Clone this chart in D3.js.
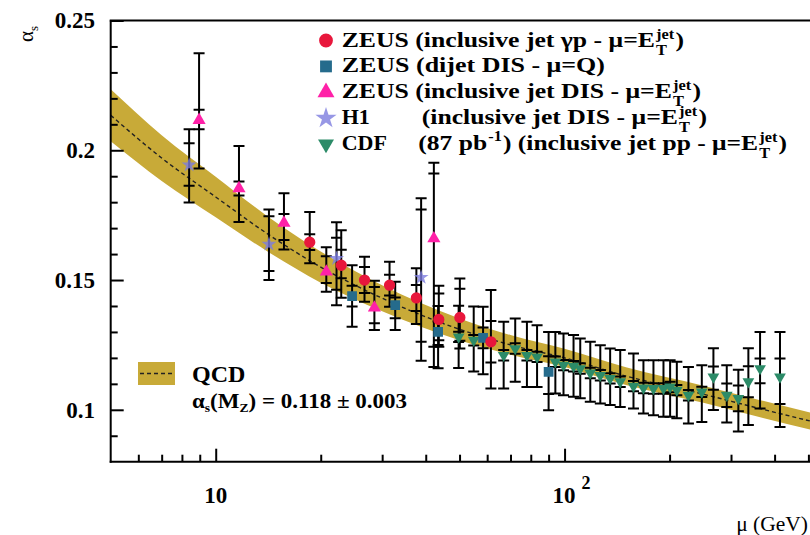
<!DOCTYPE html>
<html><head><meta charset="utf-8">
<script src="https://cdn.jsdelivr.net/npm/d3@7"></script>
<style>
body{margin:0;background:#fff}
svg{display:block}
text{font-family:"Liberation Serif","Times New Roman",serif;fill:#000}
.tick-lab{font-size:23px;font-weight:bold}
.leg{font-size:22px;font-weight:bold}
.legs{font-size:14px;font-weight:bold}
</style>
</head><body>
<svg id="chart" width="810" height="535"></svg>
<script>
// QCD running coupling band, alpha_s(MZ) = 0.118 +- 0.003
const bandMu   = [5, 7, 10, 14, 20, 30, 50, 70, 100, 150, 250, 350, 512];
const bandMid  = [0.2135, 0.197, 0.182, 0.168, 0.155, 0.143, 0.131, 0.125, 0.120, 0.113, 0.106, 0.101, 0.0955];
const bandLow  = [0.2035, 0.1882, 0.1742, 0.1612, 0.149, 0.138, 0.1268, 0.1212, 0.1165, 0.1096, 0.1027, 0.0977, 0.0922];
const bandHigh = [0.2235, 0.2058, 0.1898, 0.1748, 0.161, 0.148, 0.1352, 0.1288, 0.1235, 0.1164, 0.1093, 0.1043, 0.0988];

// ZEUS inclusive jet photoproduction
const zeusGpMu     = [18.6, 22.9, 26.7, 31.5, 37.6, 43.6, 50.1, 61.5];
const zeusGpAs     = [0.1646, 0.1557, 0.1500, 0.1480, 0.1431, 0.1348, 0.1356, 0.1262];
const zeusGpTotUp  = [0.0116, 0.0135, 0.0090, 0.0090, 0.0114, 0.0130, 0.0150, 0.0200];
const zeusGpTotDn  = [0.0081, 0.0125, 0.0084, 0.0083, 0.0100, 0.0105, 0.0120, 0.0180];
const zeusGpStatUp = [0.0030, 0.0060, 0.0050, 0.0040, 0.0050, 0.0100, 0.0110, 0.0080];
const zeusGpStatDn = [0.0030, 0.0050, 0.0050, 0.0040, 0.0050, 0.0080, 0.0090, 0.0080];

// ZEUS dijet DIS
const zeusDjMu     = [24.6, 32.7, 43.4, 58.4, 90];
const zeusDjAs     = [0.1438, 0.1403, 0.1300, 0.1277, 0.1146];
const zeusDjTotUp  = [0.0119, 0.0090, 0.0100, 0.0120, 0.0154];
const zeusDjTotDn  = [0.0118, 0.0096, 0.0140, 0.0140, 0.0148];
const zeusDjStatUp = [0.0040, 0.0030, 0.0040, 0.0040, 0.0060];
const zeusDjStatDn = [0.0040, 0.0050, 0.0050, 0.0040, 0.0085];

// ZEUS inclusive jet DIS
const zeusIjMu     = [8.96, 11.66, 15.69, 20.75, 28.5, 42.2];
const zeusIjAs     = [0.2116, 0.1853, 0.1720, 0.1532, 0.1393, 0.1660];
const zeusIjTotUp  = [0.0258, 0.0163, 0.0114, 0.0094, 0.0104, 0.0292];
const zeusIjTotDn  = [0.0186, 0.0129, 0.0102, 0.0077, 0.0086, 0.0495];
const zeusIjStatUp = [0.0040, 0.0027, 0.0034, 0.0060, 0.0080, 0.0250];
const zeusIjStatDn = [0.0035, 0.0027, 0.0066, 0.0043, 0.0060, 0.0417];

// H1 inclusive jet DIS
const h1Mu     = [8.39, 14.21, 22.2, 38.8];
const h1As     = [0.1943, 0.1638, 0.1583, 0.1510];
const h1TotUp  = [0.0138, 0.0134, 0.0140, 0.0305];
const h1TotDn  = [0.0144, 0.0138, 0.0180, 0.0321];
const h1StatUp = [0.0084, 0.0108, 0.0080, 0.0262];
const h1StatDn = [0.0080, 0.0103, 0.0120, 0.0248];

// CDF inclusive jets, 87 pb^-1
const cdfMu     = [49.7, 54.9, 66.9, 72.2, 78.0, 83.4, 94.1, 99.3, 106.1, 110.9, 118.5, 126.6, 135.1, 144.4,
                   157.6, 168.3, 179.8, 192.1, 200.7, 209.8, 226.5, 247.4, 267.1, 291.7, 314.9, 336.4, 363.4, 414.5];
const cdfAs     = [0.1281, 0.1268, 0.1210, 0.1236, 0.1210, 0.1204, 0.1185, 0.1172, 0.1168, 0.1159, 0.1142, 0.1133, 0.1121, 0.1108,
                   0.1091, 0.1084, 0.1082, 0.1082, 0.1088, 0.1076, 0.1056, 0.1069, 0.1127, 0.1056, 0.1044, 0.1108, 0.1159, 0.1127];
const cdfTotUp  = [0.0120, 0.0130, 0.0129, 0.0116, 0.0129, 0.0122, 0.0115, 0.0122, 0.0120, 0.0116, 0.0120, 0.0116, 0.0115, 0.0122,
                   0.0126, 0.0107, 0.0109, 0.0109, 0.0103, 0.0109, 0.0109, 0.0103, 0.0110, 0.0116, 0.0110, 0.0129, 0.0141, 0.0173];
const cdfTotDn  = [0.0120, 0.0120, 0.0128, 0.0128, 0.0122, 0.0116, 0.0122, 0.0116, 0.0118, 0.0115, 0.0111, 0.0109, 0.0103, 0.0097,
                   0.0086, 0.0098, 0.0103, 0.0109, 0.0115, 0.0109, 0.0109, 0.0116, 0.0128, 0.0105, 0.0128, 0.0167, 0.0154, 0.0193];
const cdfStatUp = [0.002, 0.002, 0.002, 0.002, 0.002, 0.002, 0.002, 0.002, 0.002, 0.002, 0.002, 0.002, 0.002, 0.002,
                   0.002, 0.002, 0.002, 0.002, 0.002, 0.002, 0.002, 0.002, 0.0040, 0.0045, 0.0050, 0.0060, 0.0039, 0.0071];
const cdfStatDn = [0.002, 0.002, 0.002, 0.002, 0.002, 0.002, 0.002, 0.002, 0.002, 0.002, 0.002, 0.002, 0.002, 0.002,
                   0.002, 0.002, 0.002, 0.002, 0.002, 0.002, 0.002, 0.002, 0.0050, 0.0045, 0.0050, 0.0060, 0.0057, 0.0105];

// axis ticks
const xMajorTicks = [10, 100];
const xMinorTicks = [6, 7, 8, 9, 20, 30, 40, 50, 60, 70, 80, 90, 200, 300, 400, 500];
const yMajorTicks = [0.1, 0.15, 0.2, 0.25];
const yMajorLabels = ["0.1", "0.15", "0.2", "0.25"];
const yMinorTicks = [0.09, 0.11, 0.12, 0.13, 0.14, 0.16, 0.17, 0.18, 0.19, 0.21, 0.22, 0.23, 0.24];

const colors = {gp: "#e8173c", dj: "#256b8c", ij: "#ff21a8", h1: "#7d7ddf", cdf: "#2c8b68", band: "#c8aa38"};

const svg = d3.select("#chart");
const pLeft = 110.7, pRight = 812, pTop = 20.5, pBottom = 461.7;
const x = d3.scaleLog().domain([5, 512]).range([pLeft, pRight]);
const y = d3.scaleLinear().domain([0.08, 0.25]).range([pBottom, pTop]);

svg.append("defs").append("clipPath").attr("id", "plotclip")
  .append("rect").attr("x", pLeft).attr("y", pTop).attr("width", pRight - pLeft).attr("height", pBottom - pTop);

const plot = svg.append("g").attr("clip-path", "url(#plotclip)");

// band
const bandData = bandMu.map((m, i) => ({m, mid: bandMid[i], lo: bandLow[i], hi: bandHigh[i]}));
plot.append("path").datum(bandData)
  .attr("d", d3.area().x(d => x(d.m)).y0(d => y(d.lo)).y1(d => y(d.hi)).curve(d3.curveMonotoneX))
  .attr("fill", colors.band);
plot.append("path").datum(bandData)
  .attr("d", d3.line().x(d => x(d.m)).y(d => y(d.mid)).curve(d3.curveMonotoneX))
  .attr("fill", "none").attr("stroke", "#222").attr("stroke-width", 1.4).attr("stroke-dasharray", "4,3");

function rows(mu, as, tu, td, su, sd) {
  return mu.map((m, i) => ({m, v: as[i], tu: tu[i], td: td[i], su: su[i], sd: sd[i]}));
}
const series = [
  {key: "cdf", data: rows(cdfMu, cdfAs, cdfTotUp, cdfTotDn, cdfStatUp, cdfStatDn), sym: "down", size: 60},
  {key: "h1", data: rows(h1Mu, h1As, h1TotUp, h1TotDn, h1StatUp, h1StatDn), sym: d3.symbolStar, size: 70},
  {key: "dj", data: rows(zeusDjMu, zeusDjAs, zeusDjTotUp, zeusDjTotDn, zeusDjStatUp, zeusDjStatDn), sym: d3.symbolSquare, size: 95},
  {key: "ij", data: rows(zeusIjMu, zeusIjAs, zeusIjTotUp, zeusIjTotDn, zeusIjStatUp, zeusIjStatDn), sym: d3.symbolTriangle, size: 75},
  {key: "gp", data: rows(zeusGpMu, zeusGpAs, zeusGpTotUp, zeusGpTotDn, zeusGpStatUp, zeusGpStatDn), sym: d3.symbolCircle, size: 100}
];

const cap = 5.5;
const errG = plot.append("g").attr("stroke", "#000").attr("stroke-width", 2).attr("fill", "none");
series.forEach(s => {
  s.data.forEach(d => {
    const cx = x(d.m);
    const yTop = y(d.v + d.tu), yBot = y(d.v - d.td);
    errG.append("line").attr("x1", cx).attr("x2", cx).attr("y1", yTop).attr("y2", yBot);
    [yTop, yBot, y(d.v + d.su), y(d.v - d.sd)].forEach(yy =>
      errG.append("line").attr("x1", cx - cap).attr("x2", cx + cap).attr("y1", yy).attr("y2", yy));
  });
});

function symbolPath(sym, size) {
  if (sym === "down") return d3.symbol(d3.symbolTriangle, size)();
  return d3.symbol(sym, size)();
}
series.forEach(s => {
  plot.append("g").selectAll("path").data(s.data).join("path")
    .attr("d", symbolPath(s.sym, s.size))
    .attr("transform", d => `translate(${x(d.m)},${y(d.v)})` + (s.sym === "down" ? " rotate(180)" : ""))
    .attr("fill", colors[s.key])
    .attr("opacity", s.key === "h1" ? 0.8 : 1);
});

// frame
const frame = svg.append("g").attr("stroke", "#000").attr("stroke-width", 2).attr("fill", "none");
frame.append("line").attr("x1", pLeft).attr("x2", pLeft).attr("y1", pTop).attr("y2", pBottom + 1);
frame.append("line").attr("x1", pLeft - 1).attr("x2", pRight).attr("y1", pBottom).attr("y2", pBottom);
frame.append("line").attr("x1", pLeft - 1).attr("x2", pRight).attr("y1", pTop).attr("y2", pTop);

// ticks (inward)
function axisTicks(gen, vals, len) {
  return gen.tickValues(vals).tickSize(-len).tickSizeOuter(0).tickFormat("");
}
function styleAxis(g) {
  g.select(".domain").remove();
  g.selectAll(".tick line").attr("stroke", "#000").attr("stroke-width", 2);
}
svg.append("g").attr("transform", `translate(0,${pBottom})`).call(axisTicks(d3.axisBottom(x), xMinorTicks, 7)).call(styleAxis);
svg.append("g").attr("transform", `translate(0,${pBottom})`).call(axisTicks(d3.axisBottom(x), xMajorTicks, 13)).call(styleAxis);
svg.append("g").attr("transform", `translate(${pLeft},0)`).call(axisTicks(d3.axisLeft(y), yMinorTicks, 7)).call(styleAxis);
svg.append("g").attr("transform", `translate(${pLeft},0)`).call(axisTicks(d3.axisLeft(y), yMajorTicks, 13)).call(styleAxis);

// tick labels
yMajorTicks.forEach((v, i) => {
  svg.append("text").attr("class", "tick-lab").attr("x", 95).attr("y", y(v)).attr("dy", "0.34em")
    .attr("text-anchor", "end").text(yMajorLabels[i]);
});
svg.append("text").attr("class", "tick-lab").attr("x", x(10)).attr("y", 503).attr("text-anchor", "middle").text("10");
const dec2 = svg.append("text").attr("class", "tick-lab").attr("x", x(100) - 12).attr("y", 503);
dec2.append("tspan").text("10");
dec2.append("tspan").attr("dx", 6).attr("dy", -14).style("font-size", "18px").text("2");

// axis titles
svg.append("text").attr("x", 808).attr("y", 531).attr("text-anchor", "end").style("font-size", "21.5px").text("μ (GeV)");
const yTitle = svg.append("text").attr("transform", "translate(33,42) rotate(-90)").style("font-size", "21px");
yTitle.append("tspan").text("α");
yTitle.append("tspan").attr("dy", 5).style("font-size", "13px").text("s");

// legend
const leg = svg.append("g");
const legX = 326, textX = 341.7, row0 = 46.5, rowH = 25.9;
const legendSeries = ["gp", "dj", "ij", "h1", "cdf"];
const legendSym = [[d3.symbolCircle, 150], [d3.symbolSquare, 140], [d3.symbolTriangle, 125], [d3.symbolStar, 140], ["down", 110]];
legendSeries.forEach((k, i) => {
  const [sym, size] = legendSym[i];
  leg.append("path").attr("d", symbolPath(sym, size))
    .attr("transform", `translate(${legX},${row0 + i * rowH - 6})` + (sym === "down" ? " rotate(180)" : ""))
    .attr("fill", colors[k]).attr("opacity", k === "h1" ? 0.8 : 1);
});

function smallWidth(s) {
  const tmp = svg.append("text").attr("class", "legs").text(s);
  const w = tmp.node().getComputedTextLength();
  tmp.remove();
  return w;
}
const wJet = smallWidth("jet"), wT = smallWidth("T");

// one legend line: segments are plain strings, "EJET" (E with stacked jet/T) or "INV" (^-1)
function legendLine(x0, yb, segs, endX) {
  const t = leg.append("text").attr("class", "leg").attr("x", x0).attr("y", yb);
  let carryDx = 0, carryDy = 0;
  segs.forEach(s => {
    if (s === "EJET") {
      t.append("tspan").attr("class", "legs").attr("dx", 1 + carryDx).attr("dy", -8 + carryDy).text("jet");
      t.append("tspan").attr("class", "legs").attr("dx", -wJet).attr("dy", 16).text("T");
      carryDx = wJet - wT + 1; carryDy = -8;
    } else if (s === "INV") {
      t.append("tspan").attr("class", "legs").attr("dx", 1 + carryDx).attr("dy", -9 + carryDy).text("-1");
      carryDx = 1; carryDy = 9;
    } else {
      t.append("tspan").attr("dx", carryDx).attr("dy", carryDy).text(s);
      carryDx = 0; carryDy = 0;
    }
  });
  if (endX) t.attr("textLength", endX - x0).attr("lengthAdjust", "spacingAndGlyphs");
  return t;
}
legendLine(textX, row0, ["ZEUS (inclusive jet γp - μ=E", "EJET", ")"], 684);
legendLine(textX, row0 + rowH, ["ZEUS (dijet DIS - μ=Q)"], 605);
legendLine(textX, row0 + 2 * rowH, ["ZEUS (inclusive jet DIS - μ=E", "EJET", ")"], 701);
legendLine(textX, row0 + 3 * rowH, ["H1"], 0);
legendLine(421.7, row0 + 3 * rowH, ["(inclusive jet DIS - μ=E", "EJET", ")"], 707);
legendLine(textX, row0 + 4 * rowH, ["CDF"], 0);
legendLine(418.3, row0 + 4 * rowH, ["(87 pb", "INV", ") (inclusive jet pp - μ=E", "EJET", ")"], 787);

// QCD legend
const ql = svg.append("g");
ql.append("rect").attr("x", 138).attr("y", 362).attr("width", 37).attr("height", 23).attr("fill", colors.band);
ql.append("line").attr("x1", 140).attr("x2", 174).attr("y1", 373.5).attr("y2", 373.5)
  .attr("stroke", "#222").attr("stroke-width", 1.6).attr("stroke-dasharray", "4,3");
ql.append("text").attr("x", 192).attr("y", 382).style("font-size", "24px").style("font-weight", "bold").text("QCD");
const at = ql.append("text").attr("x", 192).attr("y", 408).style("font-size", "22px").style("font-weight", "bold")
  .attr("textLength", 215).attr("lengthAdjust", "spacingAndGlyphs");
at.append("tspan").text("α");
at.append("tspan").attr("dy", 4).style("font-size", "13px").text("s");
at.append("tspan").attr("dy", -4).text("(M");
at.append("tspan").attr("dy", 4).style("font-size", "13px").text("Z");
at.append("tspan").attr("dy", -4).text(") = 0.118 ± 0.003");
</script>
</body></html>
